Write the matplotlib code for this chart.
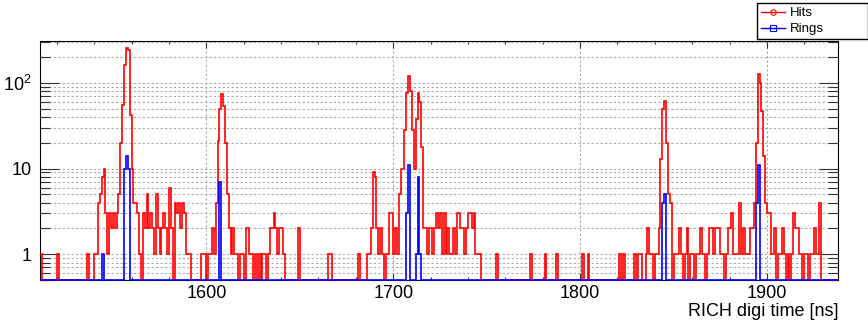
import numpy as np
import matplotlib.pyplot as plt
from matplotlib.lines import Line2D
from matplotlib.ticker import FixedLocator, FixedFormatter, MultipleLocator, LogLocator, NullFormatter

plt.rcParams['font.family'] = ['Liberation Sans', 'DejaVu Sans']
plt.rcParams['mathtext.fontset'] = 'custom'
plt.rcParams['mathtext.rm'] = 'Liberation Sans'
plt.rcParams['mathtext.it'] = 'Liberation Sans:italic'

# RICH digi time histogram, 1 ns bins (only non-empty bins listed)
hit_t = [1511, 1520, 1536, 1540, 1541, 1542, 1543, 1544, 1545, 1546,
         1547, 1548, 1549, 1550, 1551, 1552, 1553, 1554, 1555, 1556,
         1557, 1558, 1559, 1560, 1561, 1562, 1563, 1564, 1566, 1567,
         1568, 1569, 1570, 1571, 1572, 1573, 1574, 1575, 1576, 1577,
         1578, 1579, 1580, 1581, 1583, 1584, 1585, 1586, 1587, 1588,
         1589, 1590, 1591, 1597, 1598, 1599, 1601, 1602, 1603, 1604,
         1605, 1606, 1607, 1608, 1609, 1610, 1611, 1612, 1613, 1614,
         1615, 1616, 1618, 1619, 1621, 1622, 1623, 1624, 1626, 1628,
         1630, 1631, 1633, 1634, 1635, 1636, 1637, 1638,
         1639, 1640, 1641, 1649, 1665, 1666, 1681, 1686, 1687, 1688,
         1689, 1690, 1691, 1692, 1693, 1694, 1696, 1697, 1698, 1699,
         1700, 1701, 1702, 1703, 1704, 1705, 1706, 1707, 1708, 1709,
         1710, 1711, 1712, 1713, 1714, 1715, 1716, 1717, 1718, 1719,
         1720, 1721, 1722, 1723, 1724, 1725, 1726, 1727, 1728, 1729,
         1730, 1731, 1732, 1733, 1734, 1735, 1736, 1737, 1738, 1739,
         1740, 1741, 1742, 1743, 1744, 1745, 1746, 1755, 1773, 1781,
         1787, 1801, 1804, 1821, 1823, 1829, 1831, 1832, 1835, 1836,
         1837, 1838, 1840, 1841, 1842, 1843, 1844, 1845, 1846, 1847,
         1848, 1850, 1851, 1852, 1853, 1854, 1856, 1857, 1859, 1860,
         1862, 1863, 1864, 1865, 1866, 1868, 1869, 1870, 1871, 1872,
         1873, 1874, 1875, 1876, 1878, 1879, 1880, 1881, 1882, 1883,
         1884, 1885, 1886, 1887, 1888, 1889, 1890, 1891, 1892, 1893,
         1894, 1895, 1896, 1897, 1898, 1899, 1900, 1901, 1902, 1903,
         1904, 1906, 1907, 1908, 1909, 1911, 1913,
         1914, 1915, 1916, 1917, 1918, 1920, 1921, 1923, 1924, 1925,
         1926, 1927, 1928]
hit_n = [1, 1, 1, 1, 1, 4, 5, 8, 10, 3,
         1, 3, 2, 3, 2, 3, 5, 20, 55, 160,
         255, 245, 42, 10, 4, 4, 3, 1, 3, 2,
         5, 2, 3, 2, 1, 5, 2, 1, 2, 3,
         2, 1, 6, 2, 4, 3, 4, 2, 4, 3,
         1, 1, 1, 1, 1, 1, 1, 1, 2, 1,
         4, 21, 50, 74, 54, 20, 5, 2, 1, 2,
         1, 1, 1, 1, 2, 2, 1, 1, 1, 1,
         1, 1, 1, 2, 2, 3, 2, 1,
         2, 2, 1, 2, 1, 1, 1, 1, 1, 2,
         9, 8, 2, 1, 2, 1, 1, 1, 3, 3,
         1, 2, 1, 5, 10, 10, 28, 77, 120, 80,
         28, 10, 38, 77, 60, 18, 2, 2, 1, 2,
         2, 1, 2, 3, 2, 3, 1, 3, 1, 2,
         1, 1, 2, 1, 3, 3, 2, 2, 1, 2,
         3, 3, 2, 3, 1, 1, 1, 1, 1, 1,
         1, 1, 1, 1, 1, 1, 1, 1, 1, 2,
         1, 1, 1, 1, 2, 13, 50, 62, 20, 5,
         4, 1, 1, 1, 2, 1, 1, 2, 1, 1,
         1, 1, 2, 1, 1, 1, 2, 2, 1, 2,
         2, 2, 1, 1, 1, 2, 2, 3, 1, 1,
         1, 4, 1, 2, 1, 1, 1, 2, 2, 4,
         20, 127, 100, 47, 14, 4, 3, 3, 1, 1,
         2, 1, 1, 2, 1, 1, 1,
         3, 2, 2, 1, 1, 1, 1, 1, 1, 2,
         1, 1, 4]

ring_t = [1544, 1556, 1557, 1558, 1607, 1707, 1708, 1712, 1713, 1714,
          1844, 1845, 1894, 1895]
ring_n = [1, 10, 14, 10, 7, 3, 11, 1, 8, 1,
          4, 5, 4, 11]

y_labels = ['1', '10', r'$10^{2}$']
t_min, t_max = 1511, 1938
y_low, y_high = 0.5, 308

edges = np.arange(t_min, t_max + 1)


def fill(times, counts):
    h = np.zeros(edges.size - 1)
    h[np.array(times) - t_min] = counts
    return h


hits = fill(hit_t, hit_n)
rings = fill(ring_t, ring_n)

fig = plt.figure(figsize=(8.68, 3.25), dpi=100)
ax = fig.add_axes([40 / 868, 1 - 280 / 325, 798 / 868, 239 / 325])
ax.set_yscale('log')
ax.set_xlim(t_min, t_max)
ax.set_ylim(y_low, y_high)

# empty bins are drawn on the lower frame edge, like ROOT does
ax.stairs(np.where(hits > 0, hits, y_low), edges, baseline=None,
          color='red', lw=1.2, clip_on=False, zorder=3)
ax.stairs(np.where(rings > 0, rings, y_low), edges, baseline=None,
          color='blue', lw=1.2, clip_on=False, zorder=4)

ax.xaxis.set_major_locator(MultipleLocator(100))
ax.xaxis.set_minor_locator(MultipleLocator(20))
ax.yaxis.set_major_locator(FixedLocator([1, 10, 100]))
ax.yaxis.set_major_formatter(FixedFormatter(y_labels))
ax.yaxis.set_minor_locator(LogLocator(base=10, subs=np.arange(2, 10)))
ax.yaxis.set_minor_formatter(NullFormatter())

ax.tick_params(which='both', direction='in', top=True, right=True, width=0.8, colors='#333333', labelcolor='black')
ax.tick_params(axis='x', which='major', length=5, labelsize=13, pad=3.5)
ax.tick_params(axis='x', which='minor', length=2.5)
ax.tick_params(axis='y', which='major', length=14, labelsize=13, pad=6)
ax.tick_params(axis='y', which='minor', length=7)

ax.set_axisbelow(True)
ax.grid(True, axis='y', which='both', ls=(0, (2, 2)), color='#aaaaaa', lw=0.8)
ax.grid(True, axis='x', which='major', ls=(0, (2, 2)), color='#aaaaaa', lw=0.8)
for s in ax.spines.values():
    s.set_linewidth(0.8)

ax.set_xlabel('RICH digi time [ns]', fontsize=13)
ax.xaxis.label.set_ha('right')
ax.xaxis.label.set_va('baseline')
ax.xaxis.set_label_coords(1.0, (280 - 316) / 239)

handles = [Line2D([], [], color='red', lw=1, marker='o', mfc='none', ms=4, mew=0.8),
           Line2D([], [], color='blue', lw=1, marker='s', mfc='none', ms=4, mew=0.8)]
fig.legend(handles, ['Hits', 'Rings'], loc='upper left',
           bbox_to_anchor=(757 / 868, 1 - 37 / 325, 111 / 868, 34 / 325), mode='expand',
           fontsize=9.5, fancybox=False, edgecolor='black', framealpha=1,
           borderaxespad=0, borderpad=0.3, handlelength=1.8, handletextpad=0.4,
           labelspacing=0.3)

fig.savefig('out.png', dpi=100)
